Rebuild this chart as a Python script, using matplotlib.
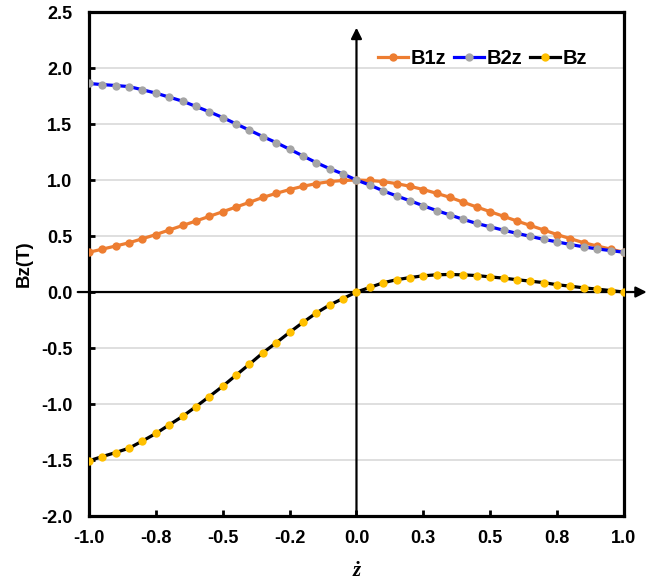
import numpy as np
import matplotlib.pyplot as plt

z = [-1.0, -0.95, -0.9, -0.85, -0.8, -0.75, -0.7, -0.65, -0.6, -0.55, -0.5,
     -0.45, -0.4, -0.35, -0.3, -0.25, -0.2, -0.15, -0.1, -0.05, 0.0,
     0.05, 0.1, 0.15, 0.2, 0.25, 0.3, 0.35, 0.4, 0.45, 0.5,
     0.55, 0.6, 0.65, 0.7, 0.75, 0.8, 0.85, 0.9, 0.95, 1.0]

B1z = [0.355, 0.383, 0.411, 0.440, 0.476, 0.513, 0.554, 0.594, 0.634, 0.676, 0.717,
       0.759, 0.801, 0.845, 0.881, 0.915, 0.944, 0.968, 0.986, 0.996, 1.0,
       0.996, 0.986, 0.968, 0.944, 0.915, 0.881, 0.845, 0.801, 0.759, 0.717,
       0.676, 0.634, 0.594, 0.554, 0.513, 0.476, 0.440, 0.411, 0.383, 0.355]

B2z = [1.862, 1.852, 1.844, 1.834, 1.806, 1.776, 1.740, 1.704, 1.657, 1.609, 1.558,
       1.501, 1.445, 1.388, 1.334, 1.275, 1.215, 1.155, 1.101, 1.054, 1.0,
       0.955, 0.903, 0.858, 0.815, 0.770, 0.727, 0.688, 0.648, 0.612, 0.582,
       0.552, 0.524, 0.497, 0.470, 0.448, 0.424, 0.403, 0.385, 0.370, 0.355]

Bz = [-1.507, -1.469, -1.433, -1.394, -1.330, -1.263, -1.186, -1.110, -1.023, -0.933, -0.841,
      -0.742, -0.644, -0.543, -0.453, -0.360, -0.271, -0.187, -0.115, -0.058, 0.0,
      0.041, 0.083, 0.110, 0.129, 0.145, 0.154, 0.157, 0.153, 0.147, 0.135,
      0.124, 0.110, 0.097, 0.084, 0.065, 0.052, 0.037, 0.026, 0.013, 0.0]

y_ticks = [-2.0, -1.5, -1.0, -0.5, 0.0, 0.5, 1.0, 1.5, 2.0, 2.5]
x_ticks = [-1.0, -0.75, -0.5, -0.25, 0.0, 0.25, 0.5, 0.75, 1.0]
x_labels = ['-1.0', '-0.8', '-0.5', '-0.2', '0.0', '0.3', '0.5', '0.8', '1.0']

plt.rcParams['font.family'] = ['Liberation Sans', 'DejaVu Sans']
plt.rcParams['font.weight'] = 'bold'

fig = plt.figure(figsize=(6.68, 5.84), dpi=100)
ax = fig.add_axes([0.1332, 0.1164, 0.8009, 0.863])

ax.plot(z, B1z, '-o', color='#ED7D31', lw=2.3, ms=6, mew=0, label='B1z', zorder=3)
ax.plot(z, B2z, '-o', color='#0000FF', mfc='#A5A5A5', mec='#A5A5A5', lw=2.3, ms=6, mew=0, label='B2z', zorder=3)
ax.plot(z, Bz, '-o', color='black', mfc='#FFC000', mec='#FFC000', lw=2.3, ms=6, mew=0, label='Bz', zorder=3)

ax.set_xlim(-1.0, 1.0)
ax.set_ylim(-2.0, 2.5)
ax.set_yticks(y_ticks)
ax.set_xticks(x_ticks)
ax.set_yticklabels([f'{v:.1f}' for v in y_ticks], fontsize=13, fontweight='bold')
ax.set_xticklabels(x_labels, fontsize=13, fontweight='bold')
ax.tick_params(direction='in', length=4, width=2)
ax.tick_params(axis='y', pad=12)
ax.tick_params(axis='x', pad=10)
ax.yaxis.grid(True, color='#D9D9D9', lw=1.2, zorder=0)
ax.set_axisbelow(True)
for s in ax.spines.values():
    s.set_linewidth(2.3)

# axis arrows through the origin
ax.annotate('', xy=(1.085, 0), xytext=(-1.042, 0), xycoords='data',
            arrowprops=dict(arrowstyle='-|>', lw=1.6, color='black', mutation_scale=16,
                            shrinkA=0, shrinkB=0), annotation_clip=False, zorder=2)
ax.annotate('', xy=(0, 2.36), xytext=(0, -2.0), xycoords='data',
            arrowprops=dict(arrowstyle='-|>', lw=1.6, color='black', mutation_scale=16,
                            shrinkA=0, shrinkB=0), annotation_clip=False, zorder=2)

ax.set_ylabel('Bz(T)', fontsize=13.5, fontweight='bold', labelpad=6)
ax.set_xlabel('ż', fontsize=15, fontweight='bold', fontstyle='italic',
              family='Liberation Serif', labelpad=10)

ax.legend(loc='center right', bbox_to_anchor=(0.958, 0.908), ncol=3, frameon=False,
          prop={'size': 14.5, 'weight': 'bold'}, handlelength=1.5, handletextpad=0.12,
          columnspacing=0.4, borderpad=0.2)

fig.savefig('out.png', dpi=100)
